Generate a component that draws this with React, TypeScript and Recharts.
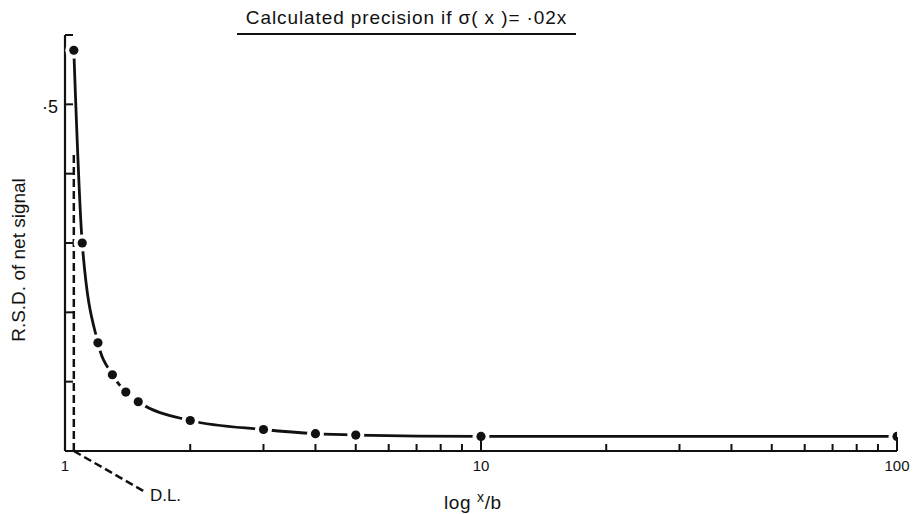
import React from "react";
import { LineChart, Line, XAxis, YAxis, ReferenceLine, ReferenceDot, Label } from "recharts";

// x / b ratio of each calculated point, and the R.S.D. of the net signal there
const ratio = [1.05, 1.1, 1.2, 1.3, 1.4, 1.5, 2, 3, 4, 5, 10, 100];
const rsd = [0.578, 0.3, 0.156, 0.11, 0.085, 0.071, 0.044, 0.031, 0.025, 0.023, 0.021, 0.021];

const xTicks = [1, 2, 3, 4, 5, 6, 7, 8, 9, 10, 20, 30, 40, 50, 60, 70, 80, 90, 100];
const xTickLabels = [1, 10, 100];
const yTicks = [0.1, 0.2, 0.3, 0.4, 0.5, 0.6];
const yTickLabels = [0.5];

// detection limit and the end of its leader line / label anchor (data units)
const detectionLimit = 1.05;
const dlTop = 0.43;
const leaderEnd = { x: 1.557, y: -0.059 };
const dlLabelAt = { x: 1.6, y: -0.072 };

const data = ratio.map((r, i) => ({ r, rsd: rsd[i] }));

const INK = "#111";
const FONT = "'Liberation Sans', Arial, sans-serif";

const XTick = (props: any) => {
  const { x, y, payload } = props;
  const v = payload.value;
  const major = v === 10 || v === 100;
  return (
    <g>
      {v !== 1 && (
        <line x1={x} x2={x} y1={y} y2={y - (major ? 14 : 7)} stroke={INK} strokeWidth={2} />
      )}
      {xTickLabels.includes(v) && (
        <text x={x} y={y + 20} textAnchor="middle" fontSize={15} fontFamily={FONT} fill={INK}>
          {v}
        </text>
      )}
    </g>
  );
};

const YTick = (props: any) => {
  const { x, y, payload } = props;
  const v = payload.value;
  return (
    <g>
      <line x1={x} x2={x + 8} y1={y} y2={y} stroke={INK} strokeWidth={2} />
      {yTickLabels.includes(v) && (
        <text x={x - 7} y={y + 9} textAnchor="end" fontSize={18} fontFamily={FONT} fill={INK}>
          {"·" + String(v).replace("0.", "")}
        </text>
      )}
    </g>
  );
};

const Dot = (props: any) => {
  const { cx, cy, index } = props;
  if (cx == null || cy == null) return null;
  return (
    <g key={index}>
      <circle cx={cx} cy={cy} r={8.5} fill="#fff" />
      <circle cx={cx} cy={cy} r={4.6} fill={INK} />
    </g>
  );
};

export default function App() {
  return (
    <div style={{ position: "absolute", left: 0, top: 0, width: 913, height: 514, background: "#fff" }}>
      <div
        style={{
          position: "absolute",
          left: 237,
          top: 8,
          width: 339,
          textAlign: "center",
          fontFamily: FONT,
          fontSize: 19,
          letterSpacing: 0.9,
          lineHeight: "20px",
          paddingBottom: 5,
          borderBottom: `2px solid ${INK}`,
          color: INK,
          whiteSpace: "nowrap",
        }}
      >
        Calculated precision if σ( x )= ·02x
      </div>
      <LineChart width={913} height={514} data={data} margin={{ top: 35, right: 16, left: 0, bottom: 0 }}>
        <XAxis
          dataKey="r"
          type="number"
          scale="log"
          domain={[1, 100]}
          ticks={xTicks}
          interval={0}
          height={63}
          tickSize={0}
          tickMargin={0}
          tickLine={false}
          tick={<XTick />}
          axisLine={{ stroke: INK, strokeWidth: 2.2 }}
          allowDataOverflow
        >
          <Label
            content={() => (
              <text x={444} y={509} fontFamily={FONT} fill={INK} letterSpacing={0.6}>
                <tspan fontSize={19}>log </tspan>
                <tspan fontSize={14} dy={-7}>x</tspan>
                <tspan fontSize={19} dy={7}>/b</tspan>
              </text>
            )}
          />
        </XAxis>
        <YAxis
          type="number"
          domain={[0, 0.6]}
          ticks={yTicks}
          interval={0}
          width={65}
          tickSize={0}
          tickMargin={0}
          tickLine={false}
          tick={<YTick />}
          axisLine={{ stroke: INK, strokeWidth: 2.2 }}
        >
          <Label
            content={() => (
              <text
                x={25}
                y={260}
                transform="rotate(-90 25 260)"
                textAnchor="middle"
                fontSize={19}
                fontFamily={FONT}
                fill={INK}
              >
                R.S.D. of net signal
              </text>
            )}
          />
        </YAxis>
        <ReferenceLine
          segment={[
            { x: detectionLimit, y: 0 },
            { x: detectionLimit, y: dlTop },
          ]}
          stroke={INK}
          strokeWidth={2.5}
          strokeDasharray="8 4"
          ifOverflow="visible"
        />
        <ReferenceLine
          segment={[
            { x: detectionLimit, y: 0 },
            leaderEnd,
          ]}
          stroke={INK}
          strokeWidth={2.5}
          strokeDasharray="8 4"
          ifOverflow="visible"
        />
        <ReferenceDot
          x={dlLabelAt.x}
          y={dlLabelAt.y}
          ifOverflow="visible"
          shape={(p: any) => (
            <text x={p.cx} y={p.cy} fontSize={17} fontFamily={FONT} fill={INK}>
              D.L.
            </text>
          )}
        />
        <Line
          type="monotone"
          dataKey="rsd"
          stroke={INK}
          strokeWidth={2.8}
          dot={<Dot />}
          activeDot={false}
          isAnimationActive={false}
        />
      </LineChart>
    </div>
  );
}
